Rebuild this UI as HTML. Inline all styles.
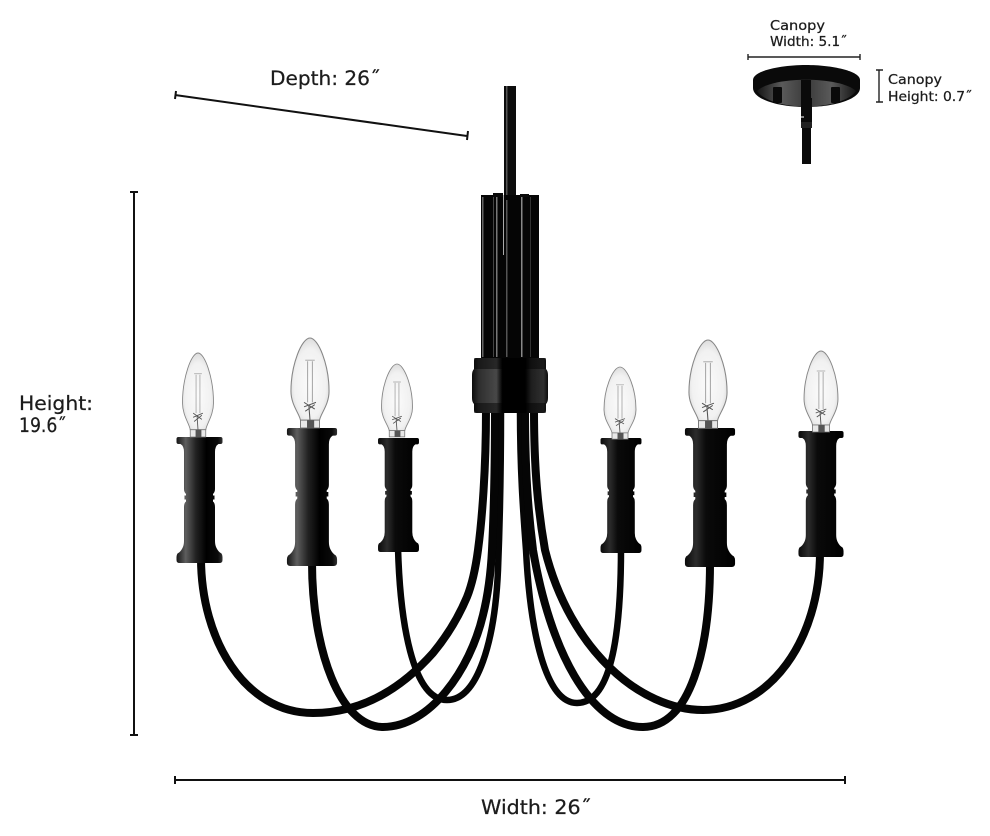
<!DOCTYPE html>
<html><head><meta charset="utf-8"><style>
html,body{margin:0;padding:0;background:#fff}
svg{display:block}
text{font-family:"DejaVu Sans","Liberation Sans",sans-serif;fill:#1c1c1c;stroke:#1c1c1c;stroke-width:.25px}
</style></head><body>
<svg width="990" height="836" viewBox="0 0 990 836" xmlns="http://www.w3.org/2000/svg">
<defs>
<linearGradient id="cl"><stop offset="0" stop-color="#151515"/><stop offset=".2" stop-color="#5e5e5e"/><stop offset=".42" stop-color="#222"/><stop offset=".65" stop-color="#000"/><stop offset=".9" stop-color="#0a0a0a"/><stop offset="1" stop-color="#333"/></linearGradient>
<linearGradient id="cr"><stop offset="0" stop-color="#0a0a0a"/><stop offset=".22" stop-color="#2c2c2c"/><stop offset=".42" stop-color="#0a0a0a"/><stop offset="1" stop-color="#000"/></linearGradient>
<radialGradient id="bg" cx=".5" cy=".55" r=".6"><stop offset="0" stop-color="#fbfbfb"/><stop offset=".7" stop-color="#f1f1f1"/><stop offset="1" stop-color="#d4d4d4"/></radialGradient>
<linearGradient id="band"><stop offset="0" stop-color="#0c0c0c"/><stop offset=".09" stop-color="#2e2e2e"/><stop offset=".32" stop-color="#484848"/><stop offset=".4" stop-color="#000"/><stop offset=".7" stop-color="#000"/><stop offset=".78" stop-color="#1e1e1e"/><stop offset=".94" stop-color="#303030"/><stop offset="1" stop-color="#0c0c0c"/></linearGradient>
<linearGradient id="under"><stop offset="0" stop-color="#151515"/><stop offset=".25" stop-color="#5a5a5a"/><stop offset=".5" stop-color="#3a3a3a"/><stop offset=".75" stop-color="#5a5a5a"/><stop offset="1" stop-color="#151515"/></linearGradient>
<g id="body">
<path d="M-21 0H21Q23 0 23 2V5Q23 7 21 7H19Q15.500 9 15.500 15V52Q15.500 55 13.500 57V58.500H15V62.500H13.500V64.500Q15.500 66 15.500 70V104Q15.500 108 17 111Q19 115 22 116.500Q23 118 23 120V123Q23 126 20 126H-20Q-23 126 -23 123V120Q-23 118 -22 116.500Q-19 115 -17 111Q-15.500 108 -15.500 104V70Q-15.500 66 -13.500 64.500V62.500H-15V58.500H-13.500V57Q-15.500 55 -15.500 52V15Q-15.500 9 -19 7H-21Q-23 7 -23 5V2Q-23 0 -21 0Z"/>
</g>
<g id="bulb">
<path d="M0 0C7 0 16 24 16 48C16 60 9 68 8 74H-8C-9 68 -16 60 -16 48C-16 24 -7 0 0 0Z" fill="url(#bg)" stroke="#868686" stroke-width=".9"/>
<path d="M-4 20H4M-2 21V58M2 21V58" stroke="#a0a0a0" stroke-width=".8" fill="none"/>
<path d="M-5 62L5 58M-5 58L4 64M-1 60L0 74M-4 66L4 60" stroke="#555" stroke-width=".9" fill="none"/>
<path d="M-8 74H8V81H-8Z" fill="#e8e8e8" stroke="#777" stroke-width=".8"/>
<rect x="-2.500" y="74" width="6" height="7" fill="#555"/>
</g>
</defs>

<!-- arms -->
<g fill="none" stroke="#050505">
<path stroke-width="6.500" d="M398 548C400 620 412 700 447 700C478 700 495 640 498 570C500 520 501 470 501 410"/>
<path stroke-width="6.500" d="M621 548C621 640 610 703 577 703C545 703 530 630 526 550C523 510 520 470 520 410"/>
<path stroke-width="8" d="M201 558C201 640 245 713 313 713C360 713 400 690 433 653C447 636 459 616 467 597C473 582 476 565 478 550C482 520 486 470 486 410"/>
<path stroke-width="8" d="M820 552C820 640 770 710 703 710C640 710 570 650 545 550C538 510 534 470 534 410"/>
<path stroke-width="8" d="M312 562C312 650 340 727 383 727C430 727 470 670 483 615C488 595 491 570 492 550C494 510 495 470 495 410"/>
<path stroke-width="8" d="M710 563C710 650 690 727 643 727C590 727 550 650 533 550C528 510 525 470 525 410"/>
</g>

<!-- stem and tubes -->
<rect x="504" y="86" width="12" height="120" fill="#0c0c0c"/>
<rect x="506" y="86" width="1.500" height="120" fill="#555"/>
<rect x="481" y="195" width="58" height="165" fill="#050505"/>
<rect x="493" y="193" width="10" height="4" fill="#0a0a0a"/>
<rect x="520" y="194" width="9" height="3" fill="#0a0a0a"/>
<rect x="503" y="195" width="1" height="60" fill="#aaa"/>
<rect x="482" y="197" width="1.500" height="160" fill="#666"/>
<rect x="493" y="197" width="1" height="160" fill="#444"/>
<rect x="496" y="197" width="1.500" height="160" fill="#777"/>
<rect x="506" y="200" width="1.500" height="157" fill="#555"/>
<rect x="521" y="197" width="1.500" height="160" fill="#888"/>
<rect x="530" y="197" width="1" height="160" fill="#333"/>

<!-- hub -->
<path d="M476 358H544Q546 358 546 361V369Q548 371 548 375V398Q548 402 546 404V410Q546 413 543 413H477Q474 413 474 410V404Q472 402 472 398V375Q472 371 474 369V361Q474 358 476 358Z" fill="url(#band)"/>
<rect x="474" y="358" width="72" height="11" fill="#000" opacity=".45"/>
<rect x="474" y="403" width="72" height="10" fill="#000" opacity=".45"/>

<!-- candles -->
<use href="#body" transform="translate(199.500 437)" fill="url(#cl)"/>
<use href="#body" transform="translate(312 428) scale(1.090 1.095)" fill="url(#cl)"/>
<use href="#body" transform="translate(398.500 438) scale(.89 .905)" fill="url(#cr)"/>
<use href="#body" transform="translate(621 438) scale(.89 .913)" fill="url(#cr)"/>
<use href="#body" transform="translate(710 428) scale(1.090 1.103)" fill="url(#cr)"/>
<use href="#body" transform="translate(821 431) scale(.98 1)" fill="url(#cr)"/>

<!-- bulbs -->
<use href="#bulb" transform="translate(198 353) scale(.97 1.037)"/>
<use href="#bulb" transform="translate(310 338) scale(1.190 1.110)"/>
<use href="#bulb" transform="translate(397 364) scale(.97 .9)"/>
<use href="#bulb" transform="translate(620 367) scale(1 .89)"/>
<use href="#bulb" transform="translate(708 340) scale(1.190 1.090)"/>
<use href="#bulb" transform="translate(821 351) scale(1.060 1)"/>

<!-- canopy -->
<path d="M753 80C753 71 780 65 806 65C832 65 860 71 860 80V88C860 99 835 107 806 107C777 107 753 99 753 88Z" fill="#0a0a0a"/>
<path d="M757 91C772 76 840 76 856 91C850 100 830 106.500 806 106.500C782 106.500 763 100 757 91Z" fill="url(#under)"/>
<rect x="773" y="87" width="9" height="16" rx="1" fill="#0a0a0a"/>
<rect x="831" y="87" width="9" height="16" rx="1" fill="#0a0a0a"/>
<path d="M801 80H811V98H812V125H801V98Z" fill="#0a0a0a"/>
<rect x="802" y="127" width="9" height="37" fill="#0a0a0a"/>
<rect x="801" y="122" width="11" height="6" fill="#222"/>
<rect x="801" y="116" width="3" height="2" fill="#888"/>

<!-- dimensions -->
<g stroke="#222" stroke-width="1.400" fill="none">
<path d="M748 57H860M748 54V60M860 54V60"/>
<path d="M879 70V102M876 70H883M876 102H883"/>
</g>
<g stroke="#111" stroke-width="2" fill="none">
<path d="M175 95L467 136M176 91L175 99M468 131L467 140"/>
<path d="M134 192V735M130 192H138M130 735H138"/>
<path d="M175 780H845M175 776V784M845 776V784"/>
</g>

<!-- labels -->
<text x="270" y="85" font-size="19.500" textLength="110" lengthAdjust="spacingAndGlyphs">Depth: 26˝</text>
<text x="19" y="410" font-size="19.500" textLength="74" lengthAdjust="spacingAndGlyphs">Height:</text>
<text x="19" y="432" font-size="19.500" textLength="47" lengthAdjust="spacingAndGlyphs">19.6˝</text>
<text x="481" y="814" font-size="19.500" textLength="110" lengthAdjust="spacingAndGlyphs">Width: 26˝</text>
<text x="770" y="30" font-size="13.500" textLength="55" lengthAdjust="spacingAndGlyphs">Canopy</text>
<text x="770" y="46" font-size="13.500" textLength="77" lengthAdjust="spacingAndGlyphs">Width: 5.1˝</text>
<text x="888" y="84" font-size="13.500" textLength="54" lengthAdjust="spacingAndGlyphs">Canopy</text>
<text x="888" y="101" font-size="13.500" textLength="84" lengthAdjust="spacingAndGlyphs">Height: 0.7˝</text>
</svg>
</body></html>
